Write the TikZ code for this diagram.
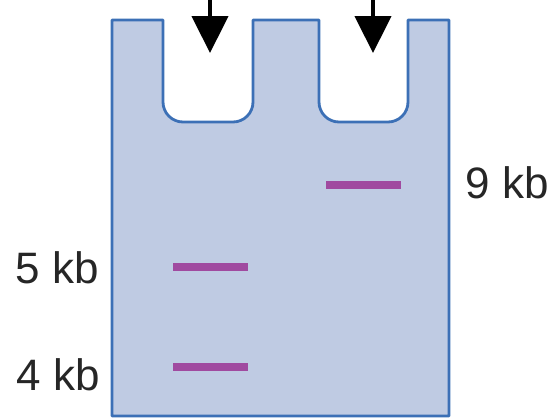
\documentclass[tikz,border=0pt]{standalone}
\usepackage{fontspec}
\setmainfont{Liberation Sans}
\usetikzlibrary{arrows.meta}
\definecolor{gelfill}{HTML}{BFCBE3}
\definecolor{geledge}{HTML}{3C70B6}
\definecolor{bandcol}{HTML}{A04AA0}
\tikzset{
  band/.style={fill=bandcol, draw=none, minimum width=75pt, minimum height=8pt, inner sep=0pt},
  sizelabel/.style={font=\fontsize{44}{44}\selectfont, text=black!85, inner sep=0pt},
  loadarrow/.style={line width=4.5pt, -{Triangle[width=36pt,length=37pt]}}
}
\begin{document}
\begin{tikzpicture}[x=1pt,y=-1pt]
\useasboundingbox (0,0) rectangle (557,418);
% gel
\draw[fill=gelfill, draw=geledge, line width=2.8pt, line join=round]
  (112,416) -- (112,20) -- (163,20)
  [rounded corners=20pt] -- (163,122) -- (253,122) [sharp corners] -- (253,20)
  -- (319,20)
  [rounded corners=20pt] -- (319,122) -- (408,122) [sharp corners] -- (408,20)
  -- (449,20) -- (449,416) -- cycle;
% arrows
\coordinate (a1s) at (210,0);
\coordinate (a1e) at (210,53);
\coordinate (a2s) at (373,0);
\coordinate (a2e) at (373,53);
\draw[loadarrow] (a1s) -- (a1e);
\draw[loadarrow] (a2s) -- (a2e);
% bands
\node[band] (b5) at (210,267) {};
\node[band] (b4) at (210,367) {};
\node[band] (b9) at (363,185) {};
% labels
\node[sizelabel] (l5) at (57,268) {5 kb};
\node[sizelabel] (l4) at (58,375) {4 kb};
\node[sizelabel] (l9) at (507,183) {9 kb};
\end{tikzpicture}
\end{document}
